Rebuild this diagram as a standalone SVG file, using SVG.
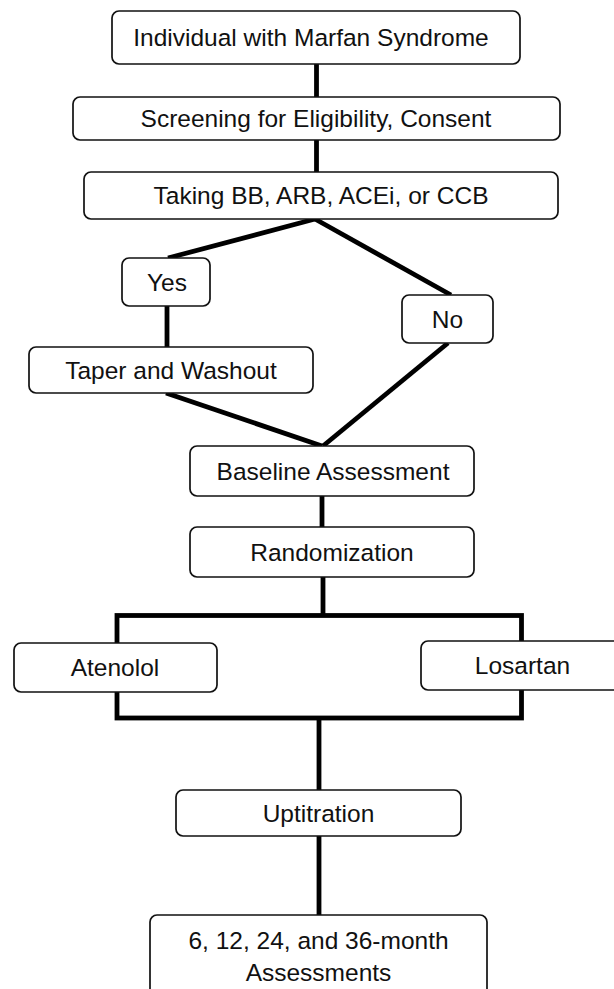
<svg xmlns="http://www.w3.org/2000/svg" width="614" height="989" viewBox="0 0 614 989">
<style>
.box{fill:#fff;stroke:#111;stroke-width:1.7}
.lbl{font-family:"Liberation Sans",Arial,sans-serif;font-size:24.5px;fill:#111;text-anchor:middle}
.con{fill:none;stroke:#000;stroke-width:4.8;stroke-linejoin:miter}
</style>
<rect width="614" height="989" fill="#fff"/>
<g id="connectors">
<line class="con" x1="316.5" y1="64" x2="316.5" y2="97"/>
<line class="con" x1="316.5" y1="140" x2="316.5" y2="172"/>
<line class="con" x1="315" y1="219" x2="168" y2="258"/>
<line class="con" x1="315" y1="219" x2="451" y2="295"/>
<line class="con" x1="167" y1="306" x2="167" y2="347"/>
<line class="con" x1="166" y1="393" x2="322" y2="446"/>
<line class="con" x1="448" y1="343" x2="323" y2="446"/>
<line class="con" x1="322" y1="496" x2="322" y2="527"/>
<line class="con" x1="323" y1="577" x2="323" y2="615.5"/>
<rect class="con" x="117" y="615.5" width="404.5" height="102.5"/>
<line class="con" x1="319" y1="718" x2="319" y2="790"/>
<line class="con" x1="319" y1="836" x2="319" y2="915"/>
</g>
<g id="n1"><rect class="box" x="112" y="11" width="408" height="53" rx="7"/><text class="lbl" x="311" y="45.5">Individual with Marfan Syndrome</text></g>
<g id="n2"><rect class="box" x="73" y="97" width="487" height="43" rx="7"/><text class="lbl" x="316" y="127">Screening for Eligibility, Consent</text></g>
<g id="n3"><rect class="box" x="84" y="172" width="474" height="47" rx="7"/><text class="lbl" x="321" y="204">Taking BB, ARB, ACEi, or CCB</text></g>
<g id="yes"><rect class="box" x="122" y="258" width="88" height="48" rx="7"/><text class="lbl" x="167" y="290.5">Yes</text></g>
<g id="no"><rect class="box" x="402" y="295" width="91" height="48" rx="7"/><text class="lbl" x="447.5" y="327.5">No</text></g>
<g id="taper"><rect class="box" x="29" y="347" width="284" height="46" rx="7"/><text class="lbl" x="171" y="378.5">Taper and Washout</text></g>
<g id="baseline"><rect class="box" x="190" y="446" width="284" height="50" rx="7"/><text class="lbl" x="333" y="479.5">Baseline Assessment</text></g>
<g id="random"><rect class="box" x="190" y="527" width="284" height="50" rx="7"/><text class="lbl" x="332" y="560.5">Randomization</text></g>
<g id="atenolol"><rect class="box" x="14" y="643" width="203" height="49" rx="7"/><text class="lbl" x="115" y="676">Atenolol</text></g>
<g id="losartan"><rect class="box" x="421" y="641" width="203" height="49" rx="7"/><text class="lbl" x="522.5" y="674">Losartan</text></g>
<g id="uptitration"><rect class="box" x="176" y="790" width="285" height="46" rx="7"/><text class="lbl" x="318.5" y="821.5">Uptitration</text></g>
<g id="assess"><rect class="box" x="150" y="915" width="337" height="90" rx="7"/><text class="lbl" x="318.5" y="949">6, 12, 24, and 36-month</text><text class="lbl" x="318.5" y="981">Assessments</text></g>
</svg>
